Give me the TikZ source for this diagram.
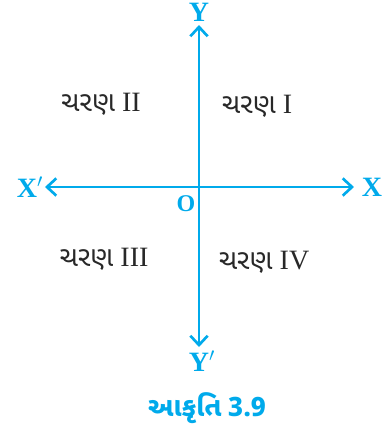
\documentclass[tikz,border=0pt]{standalone}
\usepackage{fontspec}
\setmainfont{Liberation Serif}
\newfontfamily\gujfont[Script=Gujarati]{Noto Sans Gujarati UI}
\usepackage{tikz}
\usetikzlibrary{arrows.meta, positioning}
\definecolor{axblue}{RGB}{0,170,235}
\definecolor{mydark}{RGB}{40,40,40}
\tikzset{
  axis/.style={{Straight Barb[length=7pt,width=13pt,line width=2pt]}-{Straight Barb[length=7pt,width=13pt,line width=2pt]},
    line width=2pt, color=axblue},
  axlabel/.style={font=\fontsize{21}{22}\selectfont\bfseries, text=axblue, inner sep=0pt},
  quadlabel/.style={font=\fontsize{21}{24}\selectfont, text=mydark, inner sep=0pt},
  caption/.style={font=\fontsize{20}{24}\selectfont\bfseries, text=axblue, inner sep=0pt}
}

\begin{document}
\begin{tikzpicture}[x=0.75pt, y=-0.75pt]
  \useasboundingbox (0,0) rectangle (387,437);
  % axes
  \coordinate (o) at (199,187);
  \coordinate (xl) at (45,187);
  \coordinate (xr) at (354,187);
  \coordinate (yt) at (199,25);
  \coordinate (yb) at (199,347);
  \draw[axis] (xl) -- (xr);
  \draw[axis] (yb) -- (yt);
  % axis labels
  \node[axlabel] (X) at (372,187) {X};
  \node[axlabel] (Xp) at (30,187) {X$'$};
  \node[axlabel] (Y) at (199,12) {Y};
  \node[axlabel] (Yp) at (202,361) {Y$'$};
  \node[axlabel, font=\fontsize{18}{20}\selectfont\bfseries] (O) at (186,204) {O};
  % quadrants
  \node[quadlabel] (q1) at (257,106) {{\gujfont ચરણ}\ I};
  \node[quadlabel] (q2) at (101,104) {{\gujfont ચરણ}\ II};
  \node[quadlabel] (q3) at (104,259) {{\gujfont ચરણ}\ III};
  \node[quadlabel] (q4) at (264,262) {{\gujfont ચરણ}\ IV};
  % caption
  \node[caption] (cap) at (207,408) {{\gujfont આકૃતિ} {\gujfont 3.9}};
\end{tikzpicture}
\end{document}
